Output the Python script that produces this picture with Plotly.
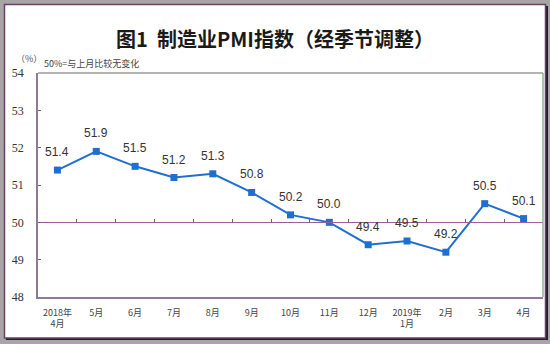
import plotly.graph_objects as go

categories = ["2018年<br>4月", "5月", "6月", "7月", "8月", "9月", "10月", "11月", "12月",
              "2019年<br>1月", "2月", "3月", "4月"]
pmi = [51.4, 51.9, 51.5, 51.2, 51.3, 50.8, 50.2, 50.0, 49.4, 49.5, 49.2, 50.5, 50.1]
y_ticks = [48, 49, 50, 51, 52, 53, 54]
baseline = 50
title_text = "图1  制造业PMI指数（经季节调整）"
unit_text = "（%）"
note_text = "50%=与上月比较无变化"

W, H = 550, 344
L, R, T, B = 38, 7, 73, 47
pw, ph = W - L - R, H - T - B

def px_x(p):
    return (p - L) / pw

def px_y(p):
    return (H - B - p) / ph

xs = list(range(len(categories)))
ymin, ymax = y_ticks[0], y_ticks[-1]

fig = go.Figure()
fig.add_trace(go.Scatter(
    x=xs, y=pmi, mode="lines+markers",
    line=dict(color="#1F6FD1", width=2),
    marker=dict(symbol="square", size=7, color="#1F6FD1"),
    hoverinfo="skip", showlegend=False))
# invisible trace for baseline axis
fig.add_trace(go.Scatter(x=[xs[0], xs[-1]], y=[baseline, baseline], xaxis="x2",
                         mode="lines", line=dict(width=0), hoverinfo="skip", showlegend=False))

for xi, v in zip(xs, pmi):
    fig.add_annotation(x=xi, y=v, text=f"{v:.1f}", showarrow=False, yshift=18,
                       font=dict(family="Liberation Sans, Arial", size=12, color="#333333"))

fig.update_layout(
    width=W, height=H,
    margin=dict(l=L, r=R, t=T, b=B),
    paper_bgcolor="#A6A6A6",
    plot_bgcolor="white",
    xaxis=dict(range=[-0.5, len(xs) - 0.5], tickmode="array", tickvals=xs, ticktext=categories,
               showgrid=False, zeroline=False, showline=True, linecolor="#8E7A94", linewidth=1.5,
               ticks="", tickfont=dict(family="Noto Sans CJK SC", size=9, color="#444444"),
               ticklabelstandoff=6, fixedrange=True),
    xaxis2=dict(range=[-0.5, len(xs) - 0.5], overlaying="x", anchor="free",
                position=(baseline - ymin) / (ymax - ymin), side="bottom",
                tickmode="array", tickvals=[i + 0.5 for i in xs[:-1]], showticklabels=False,
                ticks="inside", ticklen=3, tickcolor="#666666",
                showgrid=False, zeroline=False, showline=True, linecolor="#9A5E9A", linewidth=1.2),
    yaxis=dict(range=[ymin, ymax], tickmode="array", tickvals=y_ticks,
               showgrid=False, zeroline=False, showline=True, linecolor="#8E7A94", linewidth=1.5,
               ticks="inside", ticklen=3, tickcolor="#666666",
               tickfont=dict(family="Liberation Serif", size=12, color="#333333"),
               ticklabelstandoff=10, fixedrange=True),
)

shapes = [
    # shadow
    dict(type="rect", xref="paper", yref="paper", layer="below",
         x0=px_x(6), x1=px_x(548), y0=px_y(340), y1=px_y(6),
         fillcolor="#202020", line=dict(width=0)),
    # white box
    dict(type="rect", xref="paper", yref="paper", layer="below",
         x0=px_x(4.5), x1=px_x(545.5), y0=px_y(338), y1=px_y(4.5),
         fillcolor="white", line=dict(color="#6B3F6B", width=1.5)),
    # plot area top and right borders
    dict(type="line", xref="paper", yref="paper", x0=0, x1=1, y0=1, y1=1,
         line=dict(color="#9A9A9A", width=1.5)),
    dict(type="line", xref="paper", yref="paper", x0=1, x1=1, y0=0, y1=1,
         line=dict(color="#8DB58D", width=1.5)),
]
fig.update_layout(shapes=shapes)

fig.add_annotation(xref="paper", yref="paper", x=px_x(275), y=px_y(22), text=f"<b>{title_text}</b>",
                   showarrow=False, font=dict(family="Noto Sans CJK SC", size=20, color="#1a1a1a"))
fig.add_annotation(xref="paper", yref="paper", x=px_x(14), y=px_y(50), text=unit_text,
                   xanchor="left", showarrow=False,
                   font=dict(family="Noto Sans CJK SC", size=9, color="#555555"))
fig.add_annotation(xref="paper", yref="paper", x=px_x(42), y=px_y(55), text=note_text,
                   xanchor="left", showarrow=False,
                   font=dict(family="Noto Sans CJK SC", size=9, color="#444444"))

fig.write_html("out.html")
